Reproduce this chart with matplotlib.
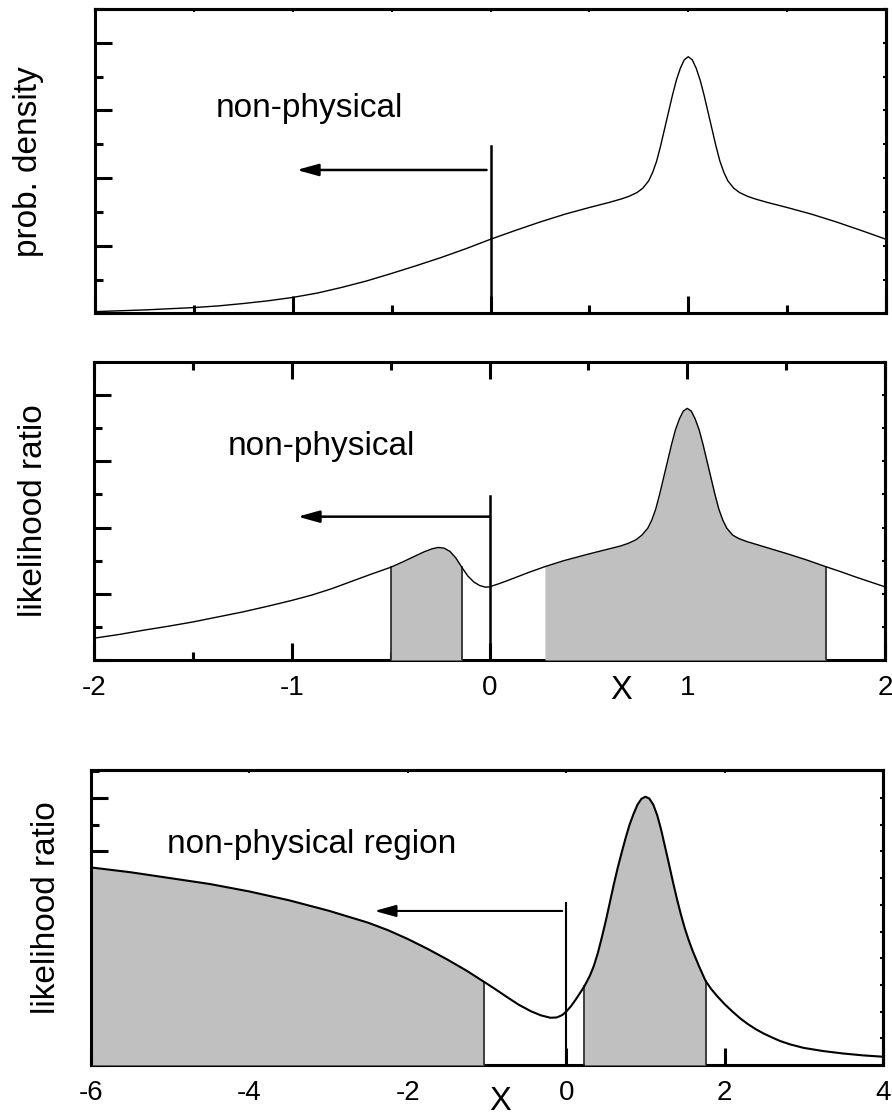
import numpy as np
import matplotlib
matplotlib.use('Agg')
from matplotlib import pyplot as plt
from matplotlib.ticker import MultipleLocator

plt.rcParams['font.family'] = ['Liberation Sans', 'DejaVu Sans']
plt.rcParams['axes.unicode_minus'] = False

# 위: 확률 밀도
x_pd = [-2.0, -1.75, -1.5, -1.375, -1.25, -1.125, -1.0, -0.875, -0.75, -0.625, -0.5, -0.375,
        -0.25, -0.125, 0.0, 0.125, 0.25, 0.375, 0.5, 0.6, 0.66, 0.7, 0.74, 0.77, 0.8, 0.82,
        0.84, 0.86, 0.88, 0.9, 0.92, 0.94, 0.96, 0.98, 1.0, 1.02, 1.04, 1.06, 1.08, 1.1, 1.12,
        1.14, 1.16, 1.18, 1.2, 1.23, 1.26, 1.3, 1.34, 1.4, 1.5, 1.625, 1.75, 1.875, 2.0]
y_pd = [0.05, 0.1, 0.17, 0.22, 0.29, 0.37, 0.47, 0.6, 0.77, 0.96, 1.18, 1.41,
        1.65, 1.91, 2.19, 2.45, 2.7, 2.93, 3.13, 3.28, 3.38, 3.46, 3.57, 3.7, 3.92, 4.17,
        4.5, 4.95, 5.45, 5.95, 6.45, 6.9, 7.25, 7.5, 7.59, 7.5, 7.25, 6.9, 6.45, 5.95, 5.45,
        4.95, 4.5, 4.17, 3.92, 3.7, 3.57, 3.46, 3.38, 3.28, 3.13, 2.93, 2.7, 2.45, 2.19]

# 가운데: likelihood ratio (-2..2)
x_lr = [-2.0, -1.875, -1.75, -1.625, -1.5, -1.375, -1.25, -1.125, -1.0, -0.9, -0.8, -0.7, -0.6,
        -0.5, -0.44, -0.38, -0.33, -0.29, -0.26, -0.23, -0.2, -0.17, -0.14, -0.11, -0.08, -0.05,
        -0.02, 0.0, 0.05, 0.1, 0.2, 0.28, 0.375, 0.5, 0.6, 0.66, 0.7, 0.74, 0.77, 0.8, 0.82,
        0.84, 0.86, 0.88, 0.9, 0.92, 0.94, 0.96, 0.98, 1.0, 1.02, 1.04, 1.06, 1.08, 1.1, 1.12,
        1.14, 1.16, 1.18, 1.2, 1.23, 1.26, 1.3, 1.4, 1.5, 1.6, 1.7, 1.775, 1.85, 1.925, 2.0]
y_lr = [0.66, 0.77, 0.9, 1.02, 1.15, 1.3, 1.45, 1.62, 1.8, 1.96, 2.15, 2.37, 2.59,
        2.8, 2.96, 3.13, 3.27, 3.36, 3.4, 3.38, 3.28, 3.08, 2.8, 2.54, 2.36, 2.25,
        2.2, 2.21, 2.31, 2.42, 2.65, 2.82, 3.0, 3.2, 3.35, 3.44, 3.52, 3.63, 3.77, 3.98, 4.22,
        4.55, 5.0, 5.5, 6.0, 6.5, 6.95, 7.28, 7.52, 7.6, 7.52, 7.28, 6.95, 6.5, 6.0, 5.5,
        5.0, 4.55, 4.22, 3.98, 3.77, 3.67, 3.58, 3.4, 3.22, 3.03, 2.82, 2.67, 2.51, 2.36, 2.21]
lr_bands = [(-0.5, -0.14), (0.28, 1.7)]
lr_edges = [-0.5, -0.14, 1.7]

# 아래: likelihood ratio (-6..4)
x_wide = [-6.0, -5.5, -5.0, -4.5, -4.0, -3.5, -3.0, -2.5, -2.25, -2.0, -1.75, -1.5, -1.25, -1.04,
          -0.9, -0.75, -0.6, -0.45, -0.32, -0.2, -0.12, -0.05, 0.0, 0.06, 0.12, 0.18, 0.23, 0.3,
          0.35, 0.4, 0.45, 0.5, 0.55, 0.6, 0.65, 0.7, 0.75, 0.8, 0.85, 0.9, 0.95, 1.0, 1.05,
          1.1, 1.15, 1.2, 1.25, 1.3, 1.35, 1.4, 1.45, 1.5, 1.55, 1.6, 1.68, 1.76, 1.83, 1.9,
          2.0, 2.1, 2.2, 2.3, 2.4, 2.5, 2.6, 2.7, 2.83, 3.0, 3.25, 3.5, 3.75, 4.0]
y_wide = [7.4, 7.22, 7.0, 6.78, 6.5, 6.17, 5.78, 5.33, 5.05, 4.72, 4.35, 3.95, 3.52, 3.12,
          2.85, 2.55, 2.26, 2.02, 1.86, 1.77, 1.78, 1.87, 2.0, 2.2, 2.45, 2.72, 2.95, 3.35,
          3.72, 4.2, 4.78, 5.4, 6.07, 6.75, 7.38, 7.95, 8.5, 9.0, 9.4, 9.75, 9.97, 10.05, 9.98,
          9.75, 9.35, 8.8, 8.15, 7.5, 6.83, 6.2, 5.62, 5.1, 4.65, 4.25, 3.68, 3.15, 2.85, 2.6,
          2.28, 2.0, 1.74, 1.52, 1.33, 1.17, 1.03, 0.9, 0.77, 0.64, 0.52, 0.43, 0.36, 0.31]
wide_bands = [(-6.0, -1.04), (0.23, 1.76)]
wide_edges = [-1.04, 0.23, 1.76]

ticks_narrow = [-2, -1, 0, 1, 2]
labels_narrow = ['-2', '-1', '0', '1', '2']
ticks_wide = [-6, -4, -2, 0, 2, 4]
labels_wide = ['-6', '-4', '-2', '0', '2', '4']

SHADE = '#c0c0c0'
EDGE = '#303030'


def frame(ax, xlim, ytop, xmajor, xminor, top_long, top_step):
    ax.set_xlim(*xlim)
    ax.set_ylim(0, ytop)
    for s in ax.spines.values():
        s.set_linewidth(2.2)
    ax.xaxis.set_major_locator(MultipleLocator(xmajor))
    if xminor:
        ax.xaxis.set_minor_locator(MultipleLocator(xminor))
    ax.yaxis.set_major_locator(MultipleLocator(2))
    ax.yaxis.set_minor_locator(MultipleLocator(1))
    ax.tick_params(which='both', direction='in', left=True, right=False, bottom=True,
                   top=top_long, width=2.2, labelleft=False, labelsize=20, pad=11)
    ax.tick_params(which='major', length=12)
    ax.tick_params(which='minor', length=6)
    # 오른쪽 작은 눈금
    sy = ax.secondary_yaxis('right')
    sy.yaxis.set_major_locator(MultipleLocator(1))
    sy.tick_params(direction='in', length=2.5, width=1.5, labelright=False)
    sy.spines['right'].set_linewidth(2.2)
    if not top_long:
        sx = ax.secondary_xaxis('top')
        sx.xaxis.set_major_locator(MultipleLocator(top_step))
        sx.tick_params(direction='in', length=2.5, width=1.5, labeltop=False)
        sx.spines['top'].set_linewidth(2.2)


def shade(ax, x, y, bands, edges):
    x = np.array(x)
    y = np.array(y)
    for lo, hi in bands:
        m = (x >= lo - 1e-9) & (x <= hi + 1e-9)
        ax.fill_between(x[m], 0, y[m], color=SHADE, lw=0, zorder=2.6)
    for e in edges:
        ye = y[np.isclose(x, e)][0]
        ax.plot([e, e], [0, ye], color=EDGE, lw=1.3, zorder=2.7)


def arrow(ax, tip, tail, ya, lw=1.8):
    ax.annotate('', xy=(tip, ya), xytext=(tail, ya),
                arrowprops=dict(arrowstyle='-|>,head_length=1.3,head_width=0.36',
                                mutation_scale=10, color='k', lw=lw,
                                shrinkA=0, shrinkB=0), zorder=4)


fig = plt.figure(figsize=(8.92, 11.17), dpi=100)
ax1 = fig.add_axes([0.1065, 0.7195, 0.8868, 0.2724])
ax2 = fig.add_axes([0.1054, 0.4091, 0.8868, 0.2668])
ax3 = fig.add_axes([0.1020, 0.04655, 0.8879, 0.2641])

# 패널 1
frame(ax1, (-2, 2), 9, 1, 0.5, False, 0.5)
ax1.tick_params(labelbottom=False)
ax1.plot(x_pd, y_pd, color='k', lw=1.0, zorder=3)
ax1.plot([0, 0], [0, 4.95], color='k', lw=1.8, zorder=3)
arrow(ax1, -0.98, -0.02, 4.24)
ax1.text(-1.39, 5.82, 'non-physical', fontsize=24, ha='left', va='baseline')
ax1.set_ylabel('prob. density', fontsize=24)
ax1.yaxis.set_label_coords(-0.0645, 0.5)

# 패널 2
frame(ax2, (-2, 2), 9, 1, 0.5, True, 0.5)
ax2.set_xticks(ticks_narrow, labels_narrow)
shade(ax2, x_lr, y_lr, lr_bands, lr_edges)
ax2.plot(x_lr, y_lr, color='k', lw=1.0, zorder=3)
ax2.plot([0, 0], [0, 4.95], color='k', lw=1.8, zorder=3)
arrow(ax2, -0.97, 0.0, 4.33)
ax2.text(-1.323, 6.18, 'non-physical', fontsize=24, ha='left', va='baseline')
ax2.set_ylabel('likelihood ratio', fontsize=24)
ax2.yaxis.set_label_coords(-0.0573, 0.503)
ax2.text(0.667, -0.1007, 'X', transform=ax2.get_xaxis_transform(), fontsize=23.5,
         ha='center', va='center')

# 패널 3
frame(ax3, (-6, 4), 11.05, 2, None, False, 2)
ax3.set_xticks(ticks_wide, labels_wide)
ax3.spines['left'].set_zorder(3)
shade(ax3, x_wide, y_wide, wide_bands, wide_edges)
ax3.plot(x_wide, y_wide, color='k', lw=1.5, zorder=3)
ax3.plot([0, 0], [0, 6.08], color='k', lw=1.5, zorder=3)
arrow(ax3, -2.42, -0.05, 5.77, lw=1.5)
ax3.text(-5.034, 7.93, 'non-physical region', fontsize=24, ha='left', va='baseline')
ax3.set_ylabel('likelihood ratio', fontsize=24)
ax3.yaxis.set_label_coords(-0.0366, 0.534)
ax3.text(-0.836, -0.125, 'X', transform=ax3.get_xaxis_transform(), fontsize=23.5,
         ha='center', va='center')

fig.savefig('out.png', dpi=100)
